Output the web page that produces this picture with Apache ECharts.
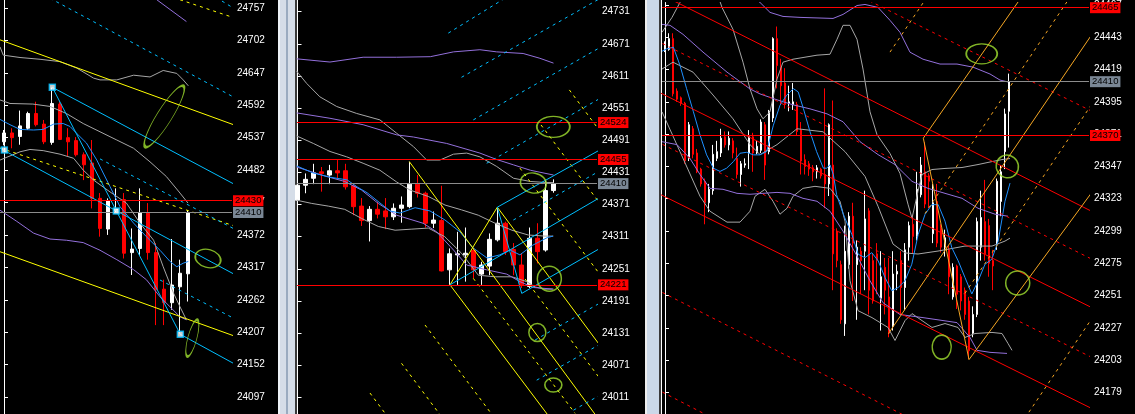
<!DOCTYPE html>
<html><head><meta charset="utf-8">
<script src="https://cdn.jsdelivr.net/npm/echarts@6.0.0/dist/echarts.min.js"></script>
<style>html,body{margin:0;padding:0;background:#000;overflow:hidden}#c{width:1135px;height:414px}</style>
</head><body><div id="c"></div><script>
// ---------------- DATA ----------------
// Panel 1 (left) candles: [open, close, low, high]
const p1Candles = [
 [24530,24545,24524,24550],[24545,24537,24519,24553],[24539,24557,24525,24583],[24553,24578,24550,24581],
 [24578,24559,24556,24598],[24560,24530,24526,24567],[24529,24595,24525,24622],[24594,24534,24533,24598],
 [24537,24530,24506,24553],[24532,24508,24505,24538],[24508,24491,24465,24512],[24494,24434,24417,24533],
 [24434,24383,24369,24443],[24382,24430,24372,24434],[24414,24416,24410,24451],[24432,24341,24332,24443],
 [24342,24348,24304,24383],[24349,24410,24338,24451],[24409,24342,24330,24426],[24342,24279,24219,24358],
 [24280,24257,24219,24296],[24257,24287,24245,24365],[24284,24307,24205,24330],[24306,24410,24259,24414]
];
const p1Ticks = [24097,24152,24207,24262,24317,24372,24427,24482,24537,24592,24647,24702,24757];
const p1Red = [24430];
const p1Gray = [24410];
const p1GrayUpper = [[-0.5,24691],[-0.09,24677],[2,24673],[4.5,24670],[7,24666],[9.1,24655],[11.2,24638],[12,24635],[14.1,24635],[16.2,24643],[18.25,24640],[19.9,24651],[21.6,24646],[22.4,24635],[23.04,24625]];
const p1GrayMid = [[-0.5,24601],[0.75,24595],[3.6,24594],[5.75,24590],[7.8,24578],[9.9,24561],[12,24547],[14.1,24533],[16.2,24519],[18.25,24496],[20.3,24471],[22,24443],[23,24426]];
const p1GrayLow = [[-0.5,24499],[2,24513],[3.25,24517],[4.9,24515],[7,24509],[8.7,24502],[9.9,24482],[11.2,24465],[13.25,24445],[15.3,24426],[17,24392],[18.7,24363],[19.9,24318],[21.2,24273],[22,24250],[22.8,24228]];
const p1PurpleLow = [[-0.5,24414],[1.6,24395],[3.7,24375],[5.75,24365],[7.8,24363],[9.9,24359],[12,24346],[14.1,24330],[16.2,24313],[17.8,24296],[19.5,24267],[20.75,24250],[22,24233],[22.8,24228]];
const p1PurpleTop = [[17.5,24790],[19.1,24771],[22.8,24734]];
const p1Blue = [[-0.5,24568],[0.75,24559],[2,24551],[3.7,24550],[4.9,24551],[6.2,24560],[7.4,24561],[8.25,24556],[9.1,24544],[10.3,24528],[11.6,24499],[12.4,24477],[13.25,24454],[14.5,24420],[16.2,24392],[17.8,24369],[19.5,24346],[20.75,24327],[21.6,24318],[22.4,24324],[23.04,24327]];
const p1CyanSolid = [
 [[6.04,24622.5],[29.5,24452.8]], [[-0.5,24519],[29.5,24300]],
 [[6.04,24622.5],[22.04,24203.4]], [[22.04,24203.4],[29.5,24148]]
];
const p1CyanDash = [
 [[5,24779],[29.5,24600]], [[12,24501],[29.5,24377]], [[19.5,24295.5],[29.5,24225]], [[26.5,24775],[29.5,24750]]
];
const p1YellowSolid = [[[-0.5,24703],[29.5,24555]], [[-0.5,24343.5],[29.5,24197]]];
const p1YellowDash = [[[-0.5,24519.5],[29.5,24384]], [[22,24771],[29.5,24737]]];
const p1Markers = [[0.04,24516],[6.04,24622.5],[14.04,24412.6],[22.04,24203.4]];
const p1Ellipses = [[20.04,24573],[25.5,24332],[23.54,24197]];

// Panel 2 (middle)
const p2Candles = [
 [24379,24407,24377,24410],[24407,24418,24392,24429],[24420,24430,24409,24447],[24432,24429,24395,24441],
 [24426,24434,24409,24445],[24434,24430,24420,24454],[24434,24404,24399,24447],[24406,24367,24351,24411],
 [24368,24341,24331,24383],[24341,24362,24302,24368],[24362,24353,24345,24376],[24359,24348,24325,24383],
 [24348,24364,24342,24373],[24364,24370,24337,24386],[24367,24409,24364,24451],[24409,24392,24384,24426],
 [24392,24336,24328,24395],[24336,24342,24327,24358],[24341,24247,24246,24406],[24249,24279,24221,24289],
 [24277,24279,24221,24320],[24277,24280,24227,24328],[24285,24249,24233,24289],[24241,24258,24221,24264],
 [24256,24306,24239,24317],[24305,24336,24302,24364],[24336,24283,24277,24339],[24287,24258,24239,24299],
 [24258,24221,24215,24280],[24218,24308,24215,24328],[24308,24283,24261,24336],[24286,24397,24283,24417],
 [24397,24410,24393,24418]
];
const p2Ticks = [24011,24071,24131,24191,24251,24311,24371,24431,24491,24551,24611,24671,24731];
const p2Red = [24524,24455,24221];
const p2Gray = [24410];
const p2GrayUpper = [[-0.1,24620],[0.1,24616],[1.15,24597],[2.8,24572],[4.9,24554],[7.4,24541],[10.3,24529],[12.4,24504],[14.5,24479],[16.15,24454],[17.8,24454],[19.5,24465],[21.15,24467],[22.8,24460],[24.9,24442],[27,24420],[29.1,24414],[31.15,24412],[32,24412]];
const p2GrayMid = [[-0.1,24499],[0.1,24498],[1.98,24485],[4.06,24470],[6.15,24460],[8.2,24448],[10.3,24435],[12.4,24413],[14.06,24398],[16.35,24386],[18.44,24370],[20.5,24361],[22.6,24351],[24.7,24336],[26.8,24323],[28.85,24314],[30.94,24312],[31.98,24312]];
const p2GrayLow = [[-0.1,24379],[1.78,24373],[3.85,24368],[5.9,24362],[8,24345],[10.1,24330],[12.2,24323],[14.3,24325],[16.35,24327],[18.4,24311],[20.5,24280],[22.6,24239],[24.7,24236],[26.8,24236],[28.65,24227],[29.7,24217],[30.9,24213],[31.9,24213]];
const p2PurpleUp = [[-0.1,24643],[4.06,24637],[8.2,24646],[12.4,24646],[16.6,24647],[19.5,24656],[22.8,24660],[24.9,24656],[28.2,24653],[30.3,24644],[32,24635]];
const p2PurpleMid = [[-0.1,24542],[4.06,24532],[8.2,24520],[12.4,24501],[14.5,24497],[18.65,24485],[22.8,24467],[24.9,24455],[27,24445],[29.1,24435],[32,24426]];
const p2PurpleLow = [[-0.1,24441],[3,24426],[5.9,24414],[8,24398],[10.1,24373],[12.4,24351],[15.7,24336],[17.4,24320],[19.5,24286],[21.15,24258],[23.65,24249],[26.15,24241],[27.8,24227],[29.5,24216],[32,24213]];
const p2Blue = [[-0.1,24443],[1.94,24430],[4.06,24422],[6.2,24417],[7.44,24404],[8.7,24393],[10.3,24374],[11.56,24359],[12.8,24355],[14.7,24365],[16.56,24359],[18.44,24342],[20.3,24320],[21.94,24290],[23.7,24271],[25.3,24277],[26.56,24286],[27.8,24277],[29.4,24295],[31.2,24309],[31.94,24312]];
const p2YellowSolid = [
 [[13.98,24451],[37.8,23967]], [[19.06,24221],[24.98,24366]],
 [[19.06,24221],[32.8,23948]], [[24.98,24366],[37.8,24108]]
];
const p2YellowDash = [
 [[9.06,24019],[12.2,23956]], [[13,24074.5],[19.06,23953.7]], [[15.94,24146],[25.3,23959]],
 [[21.98,24233],[34.7,23981]], [[28.44,24232],[37.8,24046]], [[27.8,24439],[37.8,24240.5]],
 [[30.44,24519.5],[37.8,24373]], [[33.98,24585],[37.8,24508]]
];
const p2CyanSolid = [
 [[24.98,24366],[28.03,24205]], [[24.98,24366],[37.8,24473]],
 [[19.06,24221],[37.8,24384]], [[28.03,24205],[37.8,24289]]
];
const p2CyanDash = [
 [[18.85,24691],[27,24766]], [[20.5,24608.5],[37.8,24755.6]], [[21.98,24529],[37.8,24664]],
 [[23.65,24448],[37.8,24569]], [[26.98,24342],[37.8,24434]], [[29.7,24118],[37.8,24187]],
 [[29.9,24043],[37.8,24110]], [[34.5,23987],[37.8,24015]]
];
const p2Ellipses = [[31.98,24516],[29.48,24411],[31.48,24232.5],[29.98,24132],[31.98,24034]];

// Panel 3 (right)
const p3Candles = [
 [24433,24438,24432,24440],[24434,24442,24433,24446],[24442,24401,24399,24446],[24403,24397,24395,24405],
 [24398,24394,24392,24399],[24394,24351,24349,24395],[24353,24378,24351,24380],[24375,24356,24353,24377],
 [24357,24343,24342,24360],[24345,24334,24332,24346],[24336,24320,24304,24338],[24320,24330,24313,24334],
 [24329,24356,24326,24363],[24353,24358,24351,24366],[24357,24368,24354,24375],[24369,24363,24361,24373],
 [24363,24368,24359,24373],[24366,24357,24353,24368],[24353,24341,24338,24361],[24341,24349,24332,24351],
 [24348,24349,24346,24353],[24357,24369,24345,24374],[24369,24357,24343,24372],[24357,24362,24356,24366],
 [24359,24380,24357,24382],[24378,24348,24337,24380],[24358,24388,24356,24389],[24383,24442,24380,24443],
 [24442,24422,24405,24451],[24421,24407,24393,24427],[24409,24393,24390,24420],[24394,24395,24388,24407],
 [24393,24395,24389,24409],[24393,24373,24370,24395],[24374,24351,24341,24380],[24352,24347,24341,24356],
 [24349,24345,24340,24351],[24346,24343,24336,24348],[24343,24346,24338,24348],[24345,24340,24338,24346],
 [24341,24334,24316,24405],[24334,24378,24325,24379],[24348,24282,24255,24396],[24299,24277,24272,24301],
 [24274,24233,24230,24277],[24230,24284,24221,24303],[24274,24310,24271,24313],[24310,24290,24247,24320],
 [24274,24287,24233,24292],[24284,24277,24252,24287],[24284,24308,24255,24329],[24314,24255,24237,24316],
 [24277,24247,24245,24282],[24282,24277,24252,24290],[24249,24265,24225,24284],[24272,24255,24237,24279],
 [24250,24223,24220,24279],[24228,24267,24225,24284],[24267,24269,24255,24274],[24277,24257,24237,24284],
 [24257,24285,24240,24290],[24287,24303,24277,24306],[24304,24295,24282,24311],[24295,24330,24292,24343],
 [24326,24348,24324,24354],[24343,24319,24316,24365],[24340,24336,24316,24342],[24297,24320,24290,24334],
 [24321,24290,24287,24334],[24301,24287,24283,24304],[24287,24294,24280,24300],[24285,24265,24252,24288],
 [24250,24272,24248,24275],[24273,24252,24241,24274],[24265,24247,24240,24267],[24255,24237,24233,24257],
 [24247,24210,24204,24250],[24223,24237,24220,24243],[24237,24306,24235,24309],[24287,24309,24277,24329],
 [24306,24282,24277,24337],[24303,24275,24265,24308],[24277,24273,24255,24285],[24290,24336,24285,24338],
 [24321,24343,24310,24348],[24358,24386,24345,24390],[24388,24410,24361,24416]
];
const p3Ticks = [24179,24203,24227,24251,24275,24299,24323,24347,24371,24395,24419,24443,24467];
const p3Red = [24465,24370];
const p3Gray = [24410];
const p3GrayUp = [[-0.75,24446.7],[1.75,24457.8],[3.75,24468.9],[6.25,24487],[11.75,24487],[14.25,24465.2],[17,24448.9],[19.5,24424.5],[21.25,24404.6],[23,24389.8],[24.5,24382.4],[26.25,24387.6],[28,24412],[29.5,24424.5],[32,24426.7],[38,24429.7],[41.25,24430.4],[43,24441.5],[44.5,24451.9],[46.25,24451.9],[48,24441.5],[49.5,24419.4],[51.25,24387.6],[53,24370.6],[56.25,24356.6],[58.75,24341.8],[60.75,24318.9],[61.75,24308.5],[63.25,24328.5],[64.25,24341],[66.75,24344.7],[70,24345.5],[74.25,24346.2],[78.25,24348.4],[81.75,24350.6],[84.25,24352.1],[86.25,24352.9]];
const p3GrayMid = [[-0.75,24419.4],[2,24424.5],[7,24417.1],[12,24400.1],[17,24382.4],[21.25,24363.2],[23.75,24355.8],[28,24363.2],[33,24375],[39.5,24372.8],[45,24358],[50,24339.6],[53.25,24317.4],[57,24289.3],[60,24282.7],[63.25,24281.9],[68.25,24284.1],[75,24287.8],[81.75,24287.8],[85,24291.5],[86.25,24293.7]];
const p3GrayLow = [[-0.75,24387.6],[3.75,24358],[8.75,24324.8],[11.25,24313.7],[15.5,24305.6],[18.75,24305.6],[21.25,24313.7],[22.5,24324.8],[25,24330],[27,24321.1],[28.75,24311.5],[30.5,24315.9],[32,24324.8],[34.5,24330.7],[37.5,24332.2],[41.25,24330.7],[43.75,24321.1],[45,24306.3],[46.25,24262],[48.25,24239.8],[51.75,24234.6],[55.75,24227.3],[57.5,24217.6],[60,24232.4],[61.75,24237.6],[64.25,24232.4],[66.75,24227.3],[70,24230.2],[73.25,24227.3],[75,24219.9],[77.5,24222.8],[81.75,24223.6],[84.25,24222.8],[85.75,24215.4],[86.75,24210.3]];
const p3PurpleUp = [[20,24476.2],[23.75,24468.9],[26.25,24461.5],[29.5,24458.5],[33.75,24457.8],[42,24457],[44.5,24460],[48,24466.6],[50,24467.4],[53.25,24465.2],[56.25,24455.6],[58.75,24446.7],[61.25,24431.9],[64.5,24426.7],[68.75,24423.1],[73,24423.1],[77,24420.8],[81.25,24415.7],[83.75,24411.2],[85.75,24409.8]];
const p3PurpleMid = [[-0.75,24452.6],[1.25,24451.9],[4.5,24445.2],[9.5,24432],[15.5,24417.1],[21.25,24404.6],[23.75,24400.9],[28,24396.5],[32,24392.8],[36.25,24389.8],[40.5,24386.1],[44.5,24380.2],[48.75,24365.4],[53.25,24355.8],[57.5,24348.4],[61.75,24335.9],[65.75,24330.7],[70,24327],[74.25,24323.3],[78.25,24315.9],[82.5,24311.5],[85.75,24310]];
const p3PurpleLow = [[-0.75,24365.4],[3,24363.2],[6.25,24352.9],[8.75,24341],[11.25,24330.7],[14.5,24330],[18,24327],[21.25,24326.3],[24.5,24327],[28,24327.7],[31.25,24327],[34.5,24323.3],[38,24321.1],[41.25,24313.7],[44.5,24298.9],[48,24280.4],[51.25,24262],[54.5,24245.7],[58.75,24236.9],[64.5,24234.6],[73,24230.9],[76.25,24219.9],[78,24210.3],[81.25,24208.8],[85.5,24208]];
const p3Blue = [[-0.75,24432.6],[0.4,24434.4],[2.1,24435.6],[3.75,24422.1],[5.4,24404.8],[7.1,24387.6],[8.75,24370.4],[10.4,24355.6],[12.1,24345.7],[13.75,24343.3],[15.4,24345.7],[17.1,24350.6],[18.75,24356.8],[20.4,24357.5],[22.1,24355.6],[23.75,24355.6],[25.4,24358],[27.1,24377.7],[28.75,24392.5],[30.4,24399.9],[32.1,24404.8],[33.3,24402.4],[34.6,24390],[36.25,24372.8],[37.9,24358],[39.6,24345.7],[40.4,24345.7],[41.25,24348.2],[42.1,24340.8],[42.9,24326],[44.6,24311.3],[46.7,24296.5],[48.3,24281.7],[50,24279.2],[51.7,24282.9],[53.3,24276.8],[55,24264.4],[56.7,24254.6],[58.3,24257],[60,24262],[61.7,24274.3],[63.3,24296.5],[65,24311.3],[66.7,24318.6],[68.3,24318.6],[70,24306.3],[71.7,24286.6],[73.3,24276.8],[75,24264.4],[76.7,24252.2],[78.3,24262],[80,24274.3],[81.7,24278],[83.3,24291.5],[85,24321.1],[86.25,24334.6]];
const p3RedSolid = [[[-3.75,24479],[108.75,24310.5]], [[-3.75,24405.5],[108.75,24239]], [[-3.75,24330],[108.75,24164]]];
const p3RedDash = [[[-3.75,24551],[108.75,24385]], [[-3.75,24443],[108.75,24275]], [[-3.75,24368],[108.75,24202]], [[-3.75,24258],[108.75,24088]], [[-3.75,24184],[108.75,24011]]];
const p3OrangeSolid = [[[64.58,24368],[91.25,24482]], [[64.58,24368],[76,24203.4]], [[76,24203.4],[108.75,24336]], [[55.83,24222.6],[108.75,24454]]];
const p3OrangeDash = [[[56.25,24432],[77.5,24526]], [[65,24312],[108.75,24506]], [[75,24252.7],[108.75,24402.4]], [[90,24160],[108.75,24243]]];
const p3Ellipses = [[79.18,24430.7],[85.58,24347],[88.18,24260.3],[69.18,24212.7]];

// ---------------- STYLE / LAYOUT ----------------
const FONT = 'Liberation Sans';
const COL = {red:'#ff0000', hgray:'#8c8c8c', label:'#7a8795', band:'#a6a6a6', purple:'#9370db', blue:'#1e90ff',
  cyan:'#00bfff', yellow:'#ffff00', orange:'#f5a623', green:'#a0e030'};
const ellipseShapes = {
  1: [[72,15,58],[26,18,-15],[38,9,75]],
  2: [[33,21,0],[26,20,-10],[24,25,0],[17,18,0],[17,14,0]],
  3: [[31,20,0],[22,23,30],[24,24,0],[19,24,0]]
};
const panels = [
  {left:0, width:232, xmin:-0.5, xmax:28.5, ymin:24068.16, ymax:24770.57, ticks:p1Ticks, bw:4},
  {left:297, width:300, xmin:-0.0625, xmax:37.4375, ymin:23979.82, ymax:24752.85, ticks:p2Ticks, bw:4},
  {left:662, width:427, xmin:-0.75, xmax:106, ymin:24162.97, ymax:24468.86, ticks:p3Ticks, bw:2}
];

const series = [];
function addLine(g, pts, color, dashed) {
  series.push({type:'line', xAxisIndex:g, yAxisIndex:g, data:pts, symbol:'none', showSymbol:false,
    lineStyle:{color:color, width:1, type: dashed ? [3,4] : 'solid'}, silent:true, z:3, clip:true,
    emphasis:{disabled:true}});
}
function addLines(g, list, color, dashed) { list.forEach(p => addLine(g, p, color, dashed)); }
function hl(value, color, bg) {
  return {yAxis:value, lineStyle:{color:color, width:1, type:'solid'},
    label:{show:true, position:'end', formatter:String(value), color:'#000', backgroundColor:bg,
      padding:[1,2,0,2], fontSize:9.5, fontFamily:FONT, distance:1, lineHeight:10}};
}
function addCandles(g, rows, reds, grays) {
  const marks = reds.map(v => hl(v, COL.red, COL.red)).concat(grays.map(v => hl(v, COL.hgray, COL.label)));
  series.push({type:'candlestick', xAxisIndex:g, yAxisIndex:g,
    data: rows.map((r,i) => [i, r[0], r[1], r[2], r[3]]),
    barWidth: panels[g].bw,
    itemStyle:{color:'#ffffff', color0:'#ff0000', borderColor:'#ffffff', borderColor0:'#ff0000', borderWidth:1},
    z:2, silent:true, emphasis:{disabled:true},
    markLine:{symbol:['none','none'], silent:true, animation:false, data:marks, z:4}});
}
function addEllipses(g, centers) {
  const sh = ellipseShapes[g+1];
  series.push({type:'scatter', xAxisIndex:g, yAxisIndex:g, symbol:'circle',
    data: centers.map((c,i) => ({value:c, symbolSize:[sh[i][0], sh[i][1]], symbolRotate:sh[i][2]})),
    itemStyle:{color:'rgba(0,0,0,0)', borderColor:COL.green, borderWidth:1.5}, silent:true, z:6, clip:false});
}

// Panel 1
addCandles(0, p1Candles, p1Red, p1Gray);
[p1GrayUpper, p1GrayMid, p1GrayLow].forEach(p => addLine(0, p, COL.band));
addLine(0, p1PurpleLow, COL.purple); addLine(0, p1PurpleTop, COL.purple);
addLine(0, p1Blue, COL.blue);
addLines(0, p1YellowSolid, COL.yellow); addLines(0, p1YellowDash, COL.yellow, true);
addLines(0, p1CyanSolid, COL.cyan); addLines(0, p1CyanDash, COL.cyan, true);
series.push({type:'scatter', xAxisIndex:0, yAxisIndex:0, data:p1Markers, symbol:'rect', symbolSize:6,
  itemStyle:{color:'#ffffff', borderColor:COL.cyan, borderWidth:1.5}, silent:true, z:7});
addEllipses(0, p1Ellipses);

// Panel 2
addCandles(1, p2Candles, p2Red, p2Gray);
[p2GrayUpper, p2GrayMid, p2GrayLow].forEach(p => addLine(1, p, COL.band));
[p2PurpleUp, p2PurpleMid, p2PurpleLow].forEach(p => addLine(1, p, COL.purple));
addLine(1, p2Blue, COL.blue);
addLines(1, p2YellowSolid, COL.yellow); addLines(1, p2YellowDash, COL.yellow, true);
addLines(1, p2CyanSolid, COL.cyan); addLines(1, p2CyanDash, COL.cyan, true);
addEllipses(1, p2Ellipses);

// Panel 3
addCandles(2, p3Candles, p3Red, p3Gray);
[p3GrayUp, p3GrayMid, p3GrayLow].forEach(p => addLine(2, p, COL.band));
[p3PurpleUp, p3PurpleMid, p3PurpleLow].forEach(p => addLine(2, p, COL.purple));
addLine(2, p3Blue, COL.blue);
addLines(2, p3RedSolid, COL.red); addLines(2, p3RedDash, COL.red, true);
addLines(2, p3OrangeSolid, COL.orange); addLines(2, p3OrangeDash, COL.orange, true);
addEllipses(2, p3Ellipses);

const option = {
  animation:false,
  backgroundColor:'#000000',
  grid: panels.map(p => ({left:p.left, top:0, width:p.width, height:414, containLabel:false})),
  xAxis: panels.map((p,i) => ({type:'value', gridIndex:i, min:p.xmin, max:p.xmax, show:false, splitLine:{show:false}})),
  yAxis: panels.map((p,i) => ({type:'value', gridIndex:i, position:'right', min:p.ymin, max:p.ymax,
    axisLine:{show:true, lineStyle:{color:'#ffffff', width:1}},
    axisTick:{show:true, length:4, lineStyle:{color:'#ffffff'}, customValues:p.ticks},
    axisLabel:{show:true, color:'#ffffff', fontSize:10, fontFamily:FONT, margin:5, customValues:p.ticks,
      formatter: v => String(Math.round(v))},
    splitLine:{show:false}})),
  series: series,
  graphic: [
    {type:'rect', shape:{x:278, y:0, width:19, height:414}, style:{fill:'#d5dde8'}, silent:true},
    {type:'rect', shape:{x:278, y:0, width:2, height:414}, style:{fill:'#eef2f7'}, silent:true},
    {type:'rect', shape:{x:286, y:0, width:2, height:414}, style:{fill:'#9aabc0'}, silent:true},
    {type:'rect', shape:{x:295, y:0, width:2, height:414}, style:{fill:'#3a3a3a'}, silent:true},
    {type:'rect', shape:{x:297, y:0, width:1, height:414}, style:{fill:'#ffffff'}, silent:true},
    {type:'rect', shape:{x:645, y:0, width:16, height:414}, style:{fill:'#cbd8e8'}, silent:true},
    {type:'rect', shape:{x:645, y:0, width:2, height:414}, style:{fill:'#eeeeee'}, silent:true},
    {type:'rect', shape:{x:659, y:0, width:2, height:414}, style:{fill:'#3a3a3a'}, silent:true},
    {type:'rect', shape:{x:661, y:0, width:1, height:414}, style:{fill:'#ffffff'}, silent:true}
  ]
};
const chart = echarts.init(document.getElementById('c'), null, {renderer:'canvas'});
chart.setOption(option);
</script></body></html>
